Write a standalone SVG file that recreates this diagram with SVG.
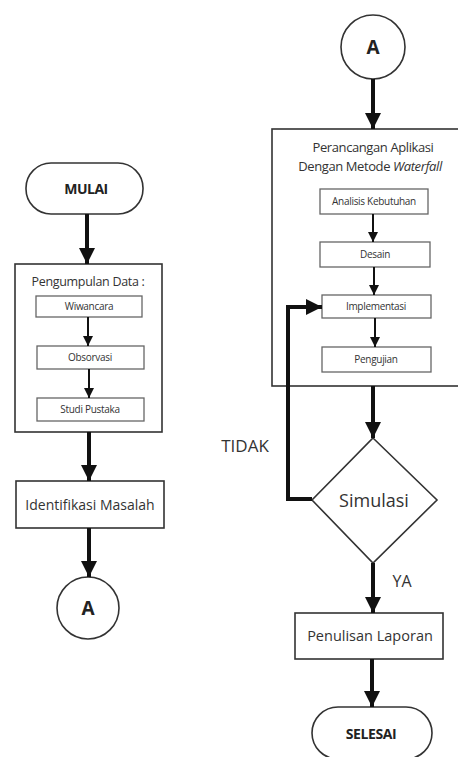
<svg xmlns="http://www.w3.org/2000/svg" width="458" height="757" viewBox="0 0 458 757">
<defs>
<style>
.t{font-family:"Open Sans","Liberation Sans",sans-serif;fill:#333;text-anchor:middle}
.b{font-weight:bold;fill:#222}
.box{fill:#fff;stroke:#333;stroke-width:1.6}
.sm{fill:#fff;stroke:#666;stroke-width:1.3}
.thick{fill:none;stroke:#111;stroke-width:4}
.thin{fill:none;stroke:#111;stroke-width:2}
</style>
<marker id="big" markerUnits="userSpaceOnUse" markerWidth="18" markerHeight="16" refX="16" refY="8" orient="auto">
<path d="M0,0 L16,8 L0,16 Z" fill="#111"/>
</marker>
<marker id="small" markerUnits="userSpaceOnUse" markerWidth="12" markerHeight="10" refX="10" refY="5" orient="auto">
<path d="M0,0 L10,5 L0,10 Z" fill="#111"/>
</marker>
</defs>
<rect width="458" height="757" fill="#fff"/>

<g id="mulai">
<rect class="box" x="26" y="163" width="117" height="51" rx="25"/>
<text class="t b" x="86" y="194" font-size="14" letter-spacing="-0.5">MULAI</text>
</g>
<g id="pengumpulan">
<rect class="box" x="15" y="264" width="147" height="168"/>
<text class="t" x="88" y="286" font-size="12.5" letter-spacing="-0.3">Pengumpulan Data :</text>
</g>
<g id="wiwancara">
<rect class="sm" x="36" y="296" width="106" height="21"/>
<text class="t" x="89" y="310" font-size="10" letter-spacing="-0.3">Wiwancara</text>
</g>
<g id="observasi">
<rect class="sm" x="37" y="346" width="107" height="23"/>
<text class="t" x="90" y="361" font-size="10" letter-spacing="-0.3">Obsorvasi</text>
</g>
<g id="studi">
<rect class="sm" x="37" y="398" width="107" height="23"/>
<text class="t" x="90" y="413" font-size="10" letter-spacing="-0.3">Studi Pustaka</text>
</g>
<g id="identifikasi">
<rect class="box" x="16" y="481" width="148" height="47"/>
<text class="t" x="90" y="510" font-size="14">Identifikasi Masalah</text>
</g>
<g id="a1">
<circle class="box" cx="88" cy="608" r="31"/>
<text class="t b" x="88" y="615" font-size="19">A</text>
</g>

<g id="a2">
<circle class="box" cx="373" cy="47" r="32"/>
<text class="t b" x="373" y="54" font-size="19">A</text>
</g>
<g id="perancangan">
<rect class="box" x="272" y="129" width="200" height="257"/>
<text class="t" x="373" y="152" font-size="13" letter-spacing="-0.4">Perancangan Aplikasi</text>
<text class="t" x="370" y="171" font-size="13" letter-spacing="-0.4">Dengan Metode <tspan font-style="italic">Waterfall</tspan></text>
</g>
<g id="analisis">
<rect class="sm" x="320" y="189" width="108" height="25"/>
<text class="t" x="374" y="205" font-size="10" letter-spacing="-0.3">Analisis Kebutuhan</text>
</g>
<g id="desain">
<rect class="sm" x="320" y="242" width="110" height="25"/>
<text class="t" x="375" y="258" font-size="10" letter-spacing="-0.3">Desain</text>
</g>
<g id="implementasi">
<rect class="sm" x="322" y="295" width="109" height="23"/>
<text class="t" x="376" y="310" font-size="10" letter-spacing="-0.3">Implementasi</text>
</g>
<g id="pengujian">
<rect class="sm" x="322" y="347" width="109" height="25"/>
<text class="t" x="376" y="363" font-size="10" letter-spacing="-0.3">Pengujian</text>
</g>
<g id="simulasi">
<path class="box" d="M373,438 L437,500 L373,563 L312,500 Z"/>
<text class="t" x="374" y="507" font-size="18">Simulasi</text>
</g>
<g id="penulisan">
<rect class="box" x="295" y="613" width="148" height="46"/>
<text class="t" x="370" y="641" font-size="14.5">Penulisan Laporan</text>
</g>
<g id="selesai">
<rect class="box" x="312" y="707" width="120" height="52" rx="26"/>
<text class="t b" x="371" y="739" font-size="14" letter-spacing="-0.4">SELESAI</text>
</g>

<g id="connectors">
<line class="thick" x1="87" y1="214" x2="87" y2="264" marker-end="url(#big)"/>
<line class="thin" x1="88" y1="317" x2="88" y2="346" marker-end="url(#small)"/>
<line class="thin" x1="89" y1="369" x2="89" y2="398" marker-end="url(#small)"/>
<line class="thick" x1="89" y1="432" x2="89" y2="481" marker-end="url(#big)"/>
<line class="thick" x1="89" y1="528" x2="89" y2="577" marker-end="url(#big)"/>
<line class="thick" x1="373" y1="79" x2="373" y2="129" marker-end="url(#big)"/>
<line class="thin" x1="373" y1="214" x2="373" y2="242" marker-end="url(#small)"/>
<line class="thin" x1="374" y1="267" x2="374" y2="295" marker-end="url(#small)"/>
<line class="thin" x1="375" y1="318" x2="375" y2="347" marker-end="url(#small)"/>
<line class="thick" x1="373" y1="386" x2="373" y2="438" marker-end="url(#big)"/>
<polyline class="thick" points="312,499 288,499 288,307 322,307" marker-end="url(#big)"/>
<line class="thick" x1="373" y1="563" x2="373" y2="613" marker-end="url(#big)"/>
<line class="thick" x1="372" y1="659" x2="372" y2="707" marker-end="url(#big)"/>
<text class="t" x="245" y="452" font-size="17">TIDAK</text>
<text class="t" x="402" y="587" font-size="16">YA</text>
</g>
</svg>
